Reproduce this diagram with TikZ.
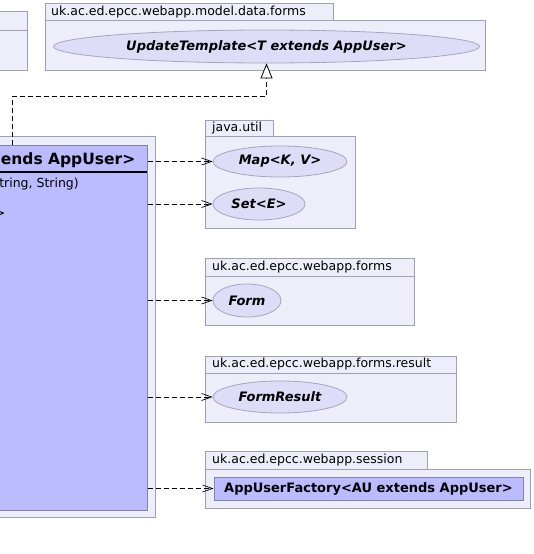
\documentclass[tikz,border=0pt]{standalone}
\usepackage{fontspec}
\setmainfont{DejaVu Sans}
\usetikzlibrary{shapes.geometric,arrows.meta}
\definecolor{pkgfill}{RGB}{238,238,251}
\definecolor{pkgline}{RGB}{160,160,180}
\definecolor{elfill}{RGB}{221,221,248}
\definecolor{elline}{RGB}{165,165,190}
\definecolor{clsfill}{RGB}{187,187,255}
\definecolor{clsline}{RGB}{130,130,180}
\tikzset{
 pkg/.style={draw=pkgline, fill=pkgfill, line width=0.9pt},
 pkglabel/.style={anchor=west, inner sep=0pt, font=\fontsize{12.5}{14}\selectfont},
 iface/.style={ellipse, draw=elline, fill=elfill, line width=0.8pt, inner sep=0pt, font=\fontsize{13}{15}\selectfont\bfseries\itshape},
 clsbox/.style={draw=clsline, fill=clsfill, line width=1pt, inner sep=0pt},
 memb/.style={inner sep=0pt, font=\fontsize{12.5}{14}\selectfont},
 dep/.style={dash pattern=on 5pt off 3pt, line width=0.8pt, -{Straight Barb[length=10pt,width=7pt,line width=0.7pt]}},
 inh/.style={dash pattern=on 5pt off 3pt, line width=0.8pt, -{Triangle[open,length=15pt,width=12pt,fill=white,line width=0.8pt]}},
}
\begin{document}
\begin{tikzpicture}[x=1pt,y=-1pt]
\useasboundingbox (0,0) rectangle (533,554);
% left cut package
\draw[pkg] (-5,11.5) rectangle (27.5,70);
\draw[pkgline, line width=0.9pt] (-5,30) -- (27.5,30);
% model.data.forms
\draw[pkg] (45.5,3) rectangle (333,20.5);
\draw[pkg] (45.5,20.5) rectangle (485.5,70);
\node[pkglabel] (lmdf) at (51,12) {uk.ac.ed.epcc.webapp.model.data.forms};
\node[iface, minimum width=426pt, minimum height=33pt] (ut) at (266.5,46.5) {UpdateTemplate<T extends AppUser>};
% main package and class
\draw[pkg] (-5,136) rectangle (155.5,517);
\node[clsbox, anchor=north east, minimum width=200pt, minimum height=365pt] (cls) at (147.5,145) {};
\draw[line width=2pt] (-5,172) -- (147,172);
\node[anchor=base east, inner sep=0pt, font=\fontsize{15.5}{18}\selectfont\bfseries] (clsname) at (135.5,164.5) {ends AppUser>};
\node[memb, anchor=base east] (m1) at (79,187) {tring, String)};
\node[memb, anchor=base east] (m2) at (5.5,217) {>};
% java.util
\draw[pkg] (205.5,120) rectangle (273,136);
\draw[pkg] (205.5,136) rectangle (355,228);
\node[pkglabel] (lju) at (212,128) {java.util};
\node[iface, minimum width=134pt, minimum height=31pt] (map) at (280,161.5) {Map<K, V>};
\node[iface, minimum width=92pt, minimum height=32pt] (set) at (259,204) {Set<E>};
% forms
\draw[pkg] (205.5,258) rectangle (414,276);
\draw[pkg] (205.5,276) rectangle (414,325.5);
\node[pkglabel] (lf) at (212,267) {uk.ac.ed.epcc.webapp.forms};
\node[iface, minimum width=68pt, minimum height=33pt] (form) at (247,300.5) {Form};
% forms.result
\draw[pkg] (205.5,356) rectangle (456,373);
\draw[pkg] (205.5,373) rectangle (456,422);
\node[pkglabel] (lfr) at (212,364.5) {uk.ac.ed.epcc.webapp.forms.result};
\node[iface, minimum width=134pt, minimum height=32pt] (fr) at (280,397) {FormResult};
% session
\draw[pkg] (205.5,451.5) rectangle (427.5,469);
\draw[pkg] (205.5,469) rectangle (530.5,508);
\node[pkglabel] (ls) at (212,460) {uk.ac.ed.epcc.webapp.session};
\node[clsbox, minimum width=309pt, minimum height=23pt, font=\fontsize{13}{15}\selectfont\bfseries] (auf) at (368.5,488.5) {AppUserFactory<AU extends AppUser>};
% dependencies
\draw[dep] (cls.east |- map.west) -- (map.west);
\draw[dep] (cls.east |- set.west) -- (set.west);
\draw[dep] (cls.east |- form.west) -- (form.west);
\draw[dep] (cls.east |- fr.west) -- (fr.west);
\draw[dep] (cls.east |- auf.west) -- (auf.west);
% realisation
\coordinate (c1) at (12.5,145);
\coordinate (bend) at (12.5,96);
\draw[inh] (c1) -- (bend) -| (ut.south);
\end{tikzpicture}
\end{document}
